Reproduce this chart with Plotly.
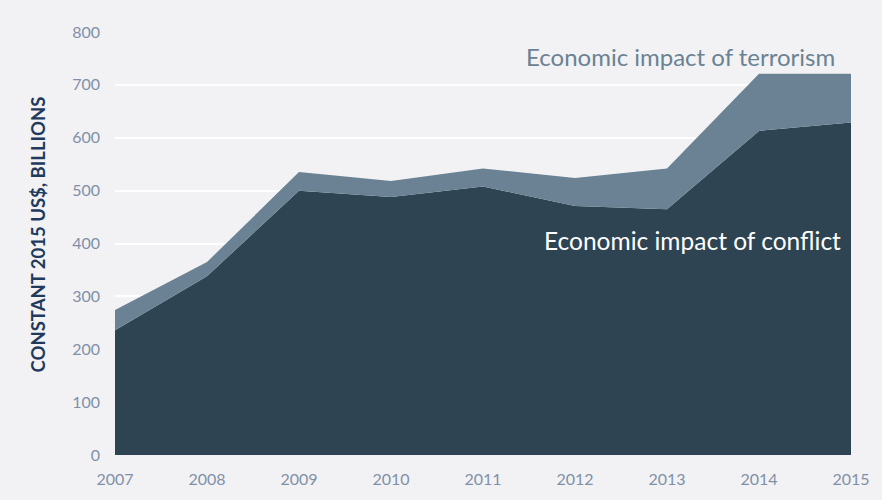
import plotly.graph_objects as go

years = [2007, 2008, 2009, 2010, 2011, 2012, 2013, 2014, 2015]
conflict = [236, 338, 500, 488, 508, 471, 465, 613, 629]
terrorism = [38, 27, 35, 30, 34, 53, 77, 108, 92]
y_ticks = [0, 100, 200, 300, 400, 500, 600, 700, 800]

fig = go.Figure()
fig.add_trace(go.Scatter(
    x=years, y=conflict, stackgroup="one", mode="lines",
    line=dict(width=0, color="#2e4452"), fillcolor="#2e4452",
    name="Economic impact of conflict", hoverinfo="x+y"))
fig.add_trace(go.Scatter(
    x=years, y=terrorism, stackgroup="one", mode="lines",
    line=dict(width=0, color="#6a8293"), fillcolor="#6a8293",
    name="Economic impact of terrorism", hoverinfo="x+y"))

fig.add_annotation(x=2013.15, y=753, xref="x", yref="y",
                   text="Economic impact of terrorism", showarrow=False,
                   font=dict(family="Lato, sans-serif", size=24, color="#6a8293"))
fig.add_annotation(x=2013.28, y=405, xref="x", yref="y",
                   text="Economic impact of conflict", showarrow=False,
                   font=dict(family="Lato, sans-serif", size=24.5, color="#ffffff"))

fig.update_layout(
    width=882, height=500,
    margin=dict(l=115, r=27, t=32, b=43),
    paper_bgcolor="#f2f2f4", plot_bgcolor="#f2f2f4",
    showlegend=False,
    font=dict(family="Lato, sans-serif", color="#8090a8", size=16),
    xaxis=dict(range=[2007, 2015], tickvals=years, ticktext=[str(y) for y in years],
               showgrid=False, zeroline=False, showline=False, ticks="",
               ticklabelstandoff=13,
               tickfont=dict(size=16, color="#8090a8")),
    yaxis=dict(range=[0, 800], tickvals=y_ticks, showgrid=True, gridcolor="#ffffff",
               gridwidth=2, zeroline=False, showline=False, ticks="",
               ticklabelstandoff=14,
               tickfont=dict(size=16, color="#8090a8")),
)
fig.add_annotation(xref="paper", yref="paper",
                   x=(38 - 115) / 740, y=(457 - 235) / 425,
                   xanchor="center", yanchor="middle",
                   text="<b>CONSTANT 2015 US$, BILLIONS</b>", showarrow=False, textangle=-90,
                   font=dict(family="Lato, sans-serif", size=18.5, color="#1f3a5c"))
fig.write_html("out.html")
